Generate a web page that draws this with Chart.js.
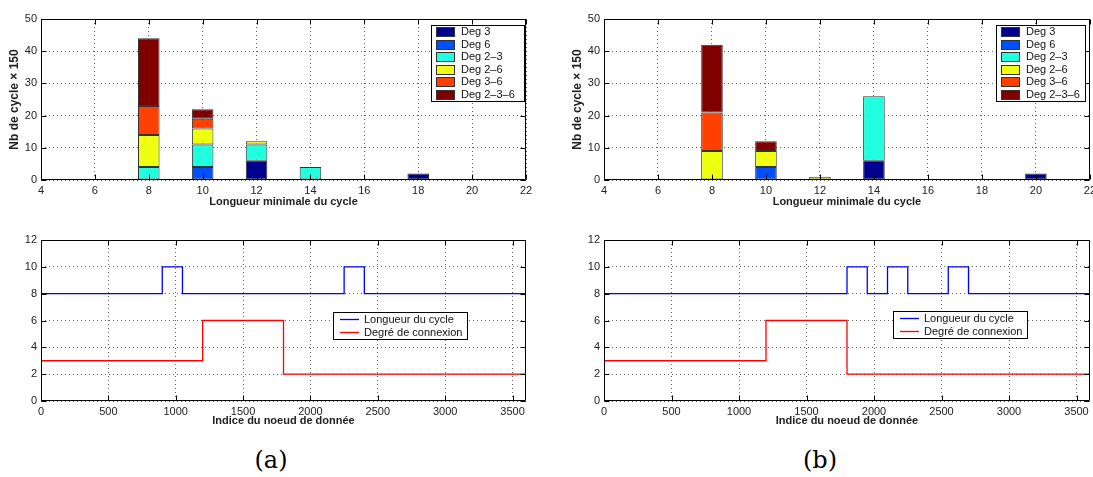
<!DOCTYPE html>
<html lang="fr">
<head>
<meta charset="utf-8">
<script src="https://cdn.jsdelivr.net/npm/chart.js@4.4.0/dist/chart.umd.min.js"></script>
<style>
    html, body { margin: 0; padding: 0; background: #fff; overflow: hidden; width: 1093px; height: 477px; }
    canvas { position: absolute; }
    .sous-titre {
        position: absolute; width: 100px; text-align: center;
        font-family: "DejaVu Serif", "Liberation Serif", serif; font-size: 24px; color: #000;
    }
</style>
</head>
<body>
<canvas id="barresA" width="546" height="215" style="left:0;top:0"></canvas>
<canvas id="barresB" width="540" height="215" style="left:560px;top:0"></canvas>
<canvas id="lignesA" width="546" height="205" style="left:0;top:225px"></canvas>
<canvas id="lignesB" width="540" height="205" style="left:560px;top:225px"></canvas>
<div class="sous-titre" style="left:221px;top:446px">(a)</div>
<div class="sous-titre" style="left:770px;top:446px">(b)</div>

<script>
/* ==================================================
   Données
   ================================================== */

// longueurs minimales du cycle (axe des x des histogrammes)
const longueurs = [4, 6, 8, 10, 12, 14, 16, 18, 20, 22];
const etiquettesDeg = ['Deg 3', 'Deg 6', 'Deg 2\u20133', 'Deg 2\u20136', 'Deg 3\u20136', 'Deg 2\u20133\u20136'];

// (a) nombre de cycles (x 150) par degré
const deg3A   = [0, 0, 0, 0, 6, 0, 0, 2, 0, 0];
const deg6A   = [0, 0, 0, 4, 0, 0, 0, 0, 0, 0];
const deg23A  = [0, 0, 4, 7, 5, 4, 0, 0, 0, 0];
const deg26A  = [0, 0, 10, 5, 1, 0, 0, 0, 0, 0];
const deg36A  = [0, 0, 9, 3, 0, 0, 0, 0, 0, 0];
const deg236A = [0, 0, 21, 3, 0, 0, 0, 0, 0, 0];

// (b)
const deg3B   = [0, 0, 0, 0, 0, 6, 0, 0, 2, 0];
const deg6B   = [0, 0, 0, 4, 0, 0, 0, 0, 0, 0];
const deg23B  = [0, 0, 0, 0, 0, 20, 0, 0, 0, 0];
const deg26B  = [0, 0, 9, 5, 1, 0, 0, 0, 0, 0];
const deg36B  = [0, 0, 12, 0, 0, 0, 0, 0, 0, 0];
const deg236B = [0, 0, 21, 3, 0, 0, 0, 0, 0, 0];

// courbes en escalier : indice du noeud où la valeur change
const indicesLongA   = [0, 900, 1050, 2250, 2400, 3600];
const longueurCycleA = [8, 10, 8, 10, 8, 8];
const indicesLongB   = [0, 1800, 1950, 2100, 2250, 2550, 2700, 3600];
const longueurCycleB = [8, 10, 8, 10, 8, 10, 8, 8];
const indicesDegre   = [0, 1200, 1800, 3600];
const degreConnexion = [3, 6, 2, 2];

// graduations de l'axe des indices
const ticksIndice = [0, 500, 1000, 1500, 2000, 2500, 3000, 3500];

/* ==================================================
   Styles
   ================================================== */
const couleursDeg = ['#00008f', '#0050ff', '#20ffdf', '#efff10', '#ff4000', '#800000'];
const POLICE = '"Liberation Sans", Arial, Helvetica, sans-serif';
Chart.defaults.font.family = POLICE;
Chart.defaults.color = '#222';

/**
 * Cadre complet autour du tracé + graduations vers l'intérieur (style MATLAB)
 */
const cadreAxes = {
    id: 'cadreAxes',
    afterDatasetsDraw(chart) {
        const { ctx, chartArea: a, scales } = chart;
        const L = Math.round(a.left) + 0.5, R = Math.round(a.right) - 0.5;
        const T = Math.round(a.top) + 0.5, B = Math.round(a.bottom) - 0.5;
        ctx.save();
        ctx.strokeStyle = '#000';
        ctx.lineWidth = 1;
        ctx.beginPath();
        ctx.rect(L, T, R - L, B - T);
        scales.x.ticks.forEach(t => {
            const px = Math.round(scales.x.getPixelForValue(t.value)) + 0.5;
            ctx.moveTo(px, B); ctx.lineTo(px, B - 5);
            ctx.moveTo(px, T); ctx.lineTo(px, T + 5);
        });
        scales.y.ticks.forEach(t => {
            const py = Math.round(scales.y.getPixelForValue(t.value)) + 0.5;
            ctx.moveTo(L, py); ctx.lineTo(L + 5, py);
            ctx.moveTo(R, py); ctx.lineTo(R - 5, py);
        });
        ctx.stroke();
        ctx.restore();
    }
};

/**
 * Légende encadrée placée dans la zone du tracé
 */
const legendeInterne = {
    id: 'legendeInterne',
    afterDraw(chart, args, o) {
        const ctx = chart.ctx;
        ctx.save();
        ctx.fillStyle = '#fff';
        ctx.fillRect(o.x, o.y, o.w, o.h);
        ctx.strokeStyle = '#000';
        ctx.lineWidth = 1;
        ctx.strokeRect(o.x + 0.5, o.y + 0.5, o.w, o.h);
        ctx.font = '11px ' + POLICE;
        ctx.textBaseline = 'middle';
        chart.data.datasets.forEach((ds, i) => {
            const yc = o.y + o.premier + i * o.pas;
            if (o.genre === 'barre') {
                ctx.fillStyle = ds.backgroundColor;
                ctx.fillRect(o.x + 5, Math.round(yc - 4.5), 18, 9);
                ctx.strokeStyle = '#333';
                ctx.strokeRect(o.x + 5.5, Math.round(yc - 4.5) + 0.5, 18, 9);
            } else {
                ctx.strokeStyle = ds.borderColor;
                ctx.lineWidth = 1.3;
                ctx.beginPath();
                ctx.moveTo(o.x + 7, Math.round(yc) + 0.5);
                ctx.lineTo(o.x + 26, Math.round(yc) + 0.5);
                ctx.stroke();
            }
            ctx.fillStyle = '#111';
            ctx.fillText(ds.label, o.x + o.texte, yc + 0.5);
        });
        ctx.restore();
    }
};

function grille() {
    return { color: 'rgba(0, 0, 0, 0.6)', lineWidth: 1, drawTicks: false };
}
function bordure() {
    return { display: false, dash: [1, 3] };
}

/**
 * Histogramme empilé
 */
function histogramme(id, series, cfg) {
    const donnees = series.map((valeurs, k) => ({
        label: etiquettesDeg[k],
        data: longueurs.map((l, i) => ({ x: l, y: valeurs[i] })),
        backgroundColor: couleursDeg[k],
        borderColor: '#333',
        borderWidth: 1,
        borderSkipped: false,
        barPercentage: 0.4,
        categoryPercentage: 1
    }));
    new Chart(document.getElementById(id), {
        type: 'bar',
        data: { datasets: donnees },
        options: {
            responsive: false,
            animation: false,
            events: [],
            layout: { padding: { top: 19, right: cfg.droite, left: 0, bottom: 0 } },
            plugins: {
                legend: { display: false },
                tooltip: { enabled: false },
                legendeInterne: cfg.legende
            },
            scales: {
                x: {
                    type: 'linear', stacked: true, offset: false,
                    min: 4, max: 22,
                    grid: Object.assign(grille(), { offset: false }),
                    border: bordure(),
                    ticks: { stepSize: 2, padding: 4, font: { size: 11 }, includeBounds: false },
                    title: {
                        display: true, text: 'Longueur minimale du cycle',
                        font: { size: 11, weight: 'bold' }, padding: { top: 0, bottom: 6 }, color: '#222'
                    },
                    afterFit: s => { s.height = 35; }
                },
                y: {
                    stacked: true, min: 0, max: 50,
                    grid: grille(),
                    border: bordure(),
                    ticks: { stepSize: 10, padding: 4, font: { size: 11 } },
                    title: {
                        display: true, text: 'Nb de cycle \u00d7 150',
                        font: { size: 12, weight: 'bold' }, padding: { top: cfg.titreY, bottom: 0 }, color: '#222'
                    },
                    afterFit: s => { s.width = cfg.largeurY; }
                }
            }
        },
        plugins: [cadreAxes, legendeInterne]
    });
}

/**
 * Courbes en escalier : longueur du cycle et degré de connexion
 */
function escaliers(id, indicesLong, longueurCycle, cfg) {
    new Chart(document.getElementById(id), {
        type: 'line',
        data: {
            datasets: [
                {
                    label: 'Longueur du cycle',
                    data: indicesLong.map((n, i) => ({ x: n, y: longueurCycle[i] })),
                    borderColor: '#0000ff',
                    borderWidth: 1.3,
                    pointRadius: 0,
                    stepped: 'before',
                    fill: false
                },
                {
                    label: 'Degr\u00e9 de connexion',
                    data: indicesDegre.map((n, i) => ({ x: n, y: degreConnexion[i] })),
                    borderColor: '#ff0000',
                    borderWidth: 1.3,
                    pointRadius: 0,
                    stepped: 'before',
                    fill: false
                }
            ]
        },
        options: {
            responsive: false,
            animation: false,
            events: [],
            layout: { padding: { top: 15, right: cfg.droite, left: 0, bottom: 0 } },
            plugins: {
                legend: { display: false },
                tooltip: { enabled: false },
                legendeInterne: cfg.legende
            },
            scales: {
                x: {
                    type: 'linear', min: 0, max: 3600,
                    grid: grille(),
                    border: bordure(),
                    afterBuildTicks: s => { s.ticks = ticksIndice.map(v => ({ value: v })); },
                    ticks: { padding: 4, font: { size: 11 }, callback: v => String(v) },
                    title: {
                        display: true, text: 'Indice du noeud de donn\u00e9e',
                        font: { size: 11, weight: 'bold' }, padding: { top: 0, bottom: 2 }, color: '#222'
                    },
                    afterFit: s => { s.height = 29; }
                },
                y: {
                    min: 0, max: 12,
                    grid: grille(),
                    border: bordure(),
                    ticks: { stepSize: 2, padding: 4, font: { size: 11 } },
                    afterFit: s => { s.width = cfg.largeurY; }
                }
            }
        },
        plugins: [cadreAxes, legendeInterne]
    });
}

histogramme('barresA', [deg3A, deg6A, deg23A, deg26A, deg36A, deg236A], {
    droite: 20, largeurY: 41, titreY: 7,
    legende: { genre: 'barre', x: 431, y: 25, w: 93, h: 76, premier: 6.7, pas: 12.5, texte: 30 }
});
histogramme('barresB', [deg3B, deg6B, deg23B, deg26B, deg36B, deg236B], {
    droite: 10, largeurY: 44, titreY: 10,
    legende: { genre: 'barre', x: 436, y: 25, w: 89, h: 76, premier: 6.7, pas: 12.5, texte: 30 }
});
escaliers('lignesA', indicesLongA, longueurCycleA, {
    droite: 20, largeurY: 41,
    legende: { genre: 'ligne', x: 333, y: 87, w: 134, h: 27, premier: 7.3, pas: 13, texte: 31 }
});
escaliers('lignesB', indicesLongB, longueurCycleB, {
    droite: 10, largeurY: 44,
    legende: { genre: 'ligne', x: 333, y: 86, w: 134, h: 27, premier: 7.3, pas: 13, texte: 31 }
});
</script>
</body>
</html>
